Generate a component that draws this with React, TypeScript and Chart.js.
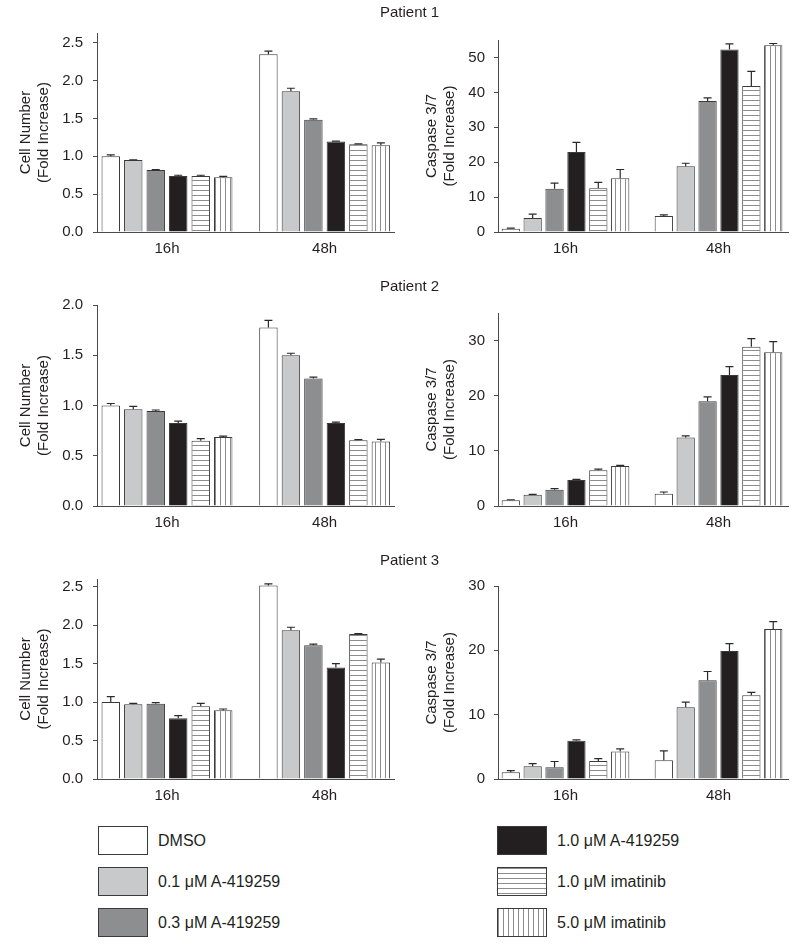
import React, { useEffect, useRef } from 'react';
import { Chart, registerables } from 'chart.js';

Chart.register(...registerables);

// ---------------- data ----------------
const timepoints = ['16h', '48h'];
const conditions = [
  'DMSO',
  '0.1 μM A-419259',
  '0.3 μM A-419259',
  '1.0 μM A-419259',
  '1.0 μM imatinib',
  '5.0 μM imatinib',
];
const patients = ['Patient 1', 'Patient 2', 'Patient 3'];
const cellTitle = ['Cell Number', '(Fold Increase)'];
const caspTitle = ['Caspase 3/7', '(Fold Increase)'];

// Patient 1
const p1Cell16 = [1.0, 0.95, 0.82, 0.74, 0.74, 0.725];
const p1Cell16Err = [0.02, 0.005, 0.005, 0.01, 0.01, 0.01];
const p1Cell48 = [2.35, 1.86, 1.485, 1.195, 1.16, 1.147];
const p1Cell48Err = [0.04, 0.04, 0.01, 0.005, 0.005, 0.03];
const p1Casp16 = [0.9, 4.0, 12.4, 22.9, 12.5, 15.4];
const p1Casp16Err = [0.2, 1.1, 1.6, 2.8, 1.7, 2.5];
const p1Casp48 = [4.6, 18.8, 37.5, 52.3, 41.8, 53.5];
const p1Casp48Err = [0.3, 0.9, 0.9, 1.6, 4.2, 0.5];

// Patient 2
const p2Cell16 = [1.0, 0.962, 0.945, 0.825, 0.65, 0.686];
const p2Cell16Err = [0.02, 0.03, 0.01, 0.02, 0.02, 0.01];
const p2Cell48 = [1.777, 1.5, 1.268, 0.825, 0.655, 0.642];
const p2Cell48Err = [0.07, 0.02, 0.015, 0.01, 0.005, 0.02];
const p2Casp16 = [1.03, 2.06, 2.96, 4.72, 6.47, 7.26];
const p2Casp16Err = [0.1, 0.05, 0.2, 0.1, 0.2, 0.1];
const p2Casp48 = [2.24, 12.4, 19.0, 23.77, 28.86, 27.9];
const p2Casp48Err = [0.3, 0.3, 0.8, 1.5, 1.5, 1.9];

// Patient 3
const p3Cell16 = [1.0, 0.973, 0.977, 0.79, 0.947, 0.895];
const p3Cell16Err = [0.07, 0.01, 0.015, 0.035, 0.035, 0.015];
const p3Cell48 = [2.517, 1.933, 1.739, 1.449, 1.886, 1.514];
const p3Cell48Err = [0.02, 0.04, 0.015, 0.05, 0.005, 0.045];
const p3Casp16 = [1.04, 1.98, 1.82, 5.94, 2.81, 4.27];
const p3Casp16Err = [0.25, 0.4, 0.9, 0.15, 0.35, 0.42];
const p3Casp48 = [2.92, 11.15, 15.36, 19.9, 13.0, 23.3];
const p3Casp48Err = [1.45, 0.8, 1.35, 1.15, 0.45, 1.15];

// ---------------- styles ----------------
const FONT = "'Liberation Sans', Arial, Helvetica, sans-serif";
const TEXT = '#231f20';
const AXIS = '#4a4a4a';
const BAR_BORDER = '#3a3a3a';
const STRIPE = '#8c8c8c';
const fillKinds = ['#ffffff', '#c8c9cb', '#8d8e90', '#231f20', 'hstripe', 'vstripe'];

function makeFill(ctx: CanvasRenderingContext2D, kind: string): any {
  if (kind !== 'hstripe' && kind !== 'vstripe') return kind;
  const c = document.createElement('canvas');
  const n = 5;
  c.width = kind === 'hstripe' ? 1 : n;
  c.height = kind === 'hstripe' ? n : 1;
  const g = c.getContext('2d')!;
  g.fillStyle = '#ffffff';
  g.fillRect(0, 0, c.width, c.height);
  g.fillStyle = STRIPE;
  g.fillRect(0, 0, 1, 1);
  return ctx.createPattern(c, 'repeat');
}

function cssFill(kind: string): string {
  if (kind === 'hstripe')
    return `repeating-linear-gradient(to bottom, ${STRIPE} 0px, ${STRIPE} 1px, #fff 1px, #fff 5px)`;
  if (kind === 'vstripe')
    return `repeating-linear-gradient(to right, ${STRIPE} 0px, ${STRIPE} 1px, #fff 1px, #fff 5px)`;
  return kind;
}

const errorBarPlugin = {
  id: 'errorBars',
  afterDatasetsDraw(chart: any) {
    const ctx = chart.ctx;
    const yScale = chart.scales.y;
    chart.data.datasets.forEach((ds: any, i: number) => {
      const meta = chart.getDatasetMeta(i);
      meta.data.forEach((bar: any, j: number) => {
        const v = ds.data[j].y;
        const e = ds.errors[j];
        const x = bar.x;
        const y0 = yScale.getPixelForValue(v);
        const y1 = yScale.getPixelForValue(v + e);
        ctx.save();
        ctx.strokeStyle = '#2a2a2a';
        ctx.lineWidth = 1.2;
        ctx.beginPath();
        ctx.moveTo(x, y0);
        ctx.lineTo(x, y1);
        ctx.moveTo(x - 4, y1);
        ctx.lineTo(x + 4, y1);
        ctx.stroke();
        ctx.restore();
      });
    });
  },
};

type Spec = {
  left: number;
  top: number;
  width: number;
  height: number;
  padTop: number;
  padRight: number;
  yAxisWidth: number;
  xAxisHeight: number;
  xMin: number;
  xMax: number;
  yMax: number;
  yStep: number;
  decimals: number;
  yTitle: string[];
  titlePad: number;
  tickPad: number;
  catPct: number;
  barPct: number;
  mean16: number[];
  err16: number[];
  mean48: number[];
  err48: number[];
};

function BarPanel({ spec }: { spec: Spec }) {
  const ref = useRef<HTMLCanvasElement>(null);
  useEffect(() => {
    const canvas = ref.current!;
    const ctx = canvas.getContext('2d')!;
    const fills = fillKinds.map((k) => makeFill(ctx, k));
    const datasets = conditions.map((c, i) => ({
      label: c,
      data: [
        { x: 0, y: spec.mean16[i] },
        { x: 1, y: spec.mean48[i] },
      ],
      errors: [spec.err16[i], spec.err48[i]],
      backgroundColor: fills[i],
      borderColor: BAR_BORDER,
      borderWidth: 1,
      categoryPercentage: spec.catPct,
      barPercentage: spec.barPct,
    }));
    const chart = new Chart(ctx, {
      type: 'bar',
      data: { datasets } as any,
      options: {
        animation: false,
        responsive: false,
        events: [],
        layout: { padding: { top: spec.padTop, right: spec.padRight, left: 0, bottom: 0 } },
        plugins: { legend: { display: false }, tooltip: { enabled: false } },
        scales: {
          x: {
            type: 'linear',
            min: spec.xMin,
            max: spec.xMax,
            offset: false,
            grid: { display: false, drawTicks: false, offset: false },
            border: { display: true, color: AXIS, width: 1 },
            afterBuildTicks: (s: any) => {
              s.ticks = timepoints.map((_, i) => ({ value: i }));
            },
            afterFit: (s: any) => {
              s.height = spec.xAxisHeight;
            },
            ticks: {
              callback: (v: any) => timepoints[v] ?? '',
              padding: 8,
              color: TEXT,
              maxRotation: 0,
              autoSkip: false,
              font: { family: FONT, size: 15 },
            },
          },
          y: {
            type: 'linear',
            min: 0,
            max: spec.yMax,
            grid: { drawOnChartArea: false, drawTicks: true, tickLength: 4, color: AXIS },
            border: { display: true, color: AXIS, width: 1 },
            afterFit: (s: any) => {
              s.width = spec.yAxisWidth;
            },
            ticks: {
              stepSize: spec.yStep,
              includeBounds: false,
              padding: spec.tickPad,
              callback: (v: any) => Number(v).toFixed(spec.decimals),
              color: TEXT,
              font: { family: FONT, size: 15 },
            },
            title: {
              display: true,
              text: spec.yTitle,
              color: TEXT,
              font: { family: FONT, size: 15, lineHeight: 1.2 },
              padding: { top: spec.titlePad, bottom: 0 },
            },
          },
        },
      } as any,
      plugins: [errorBarPlugin],
    });
    return () => chart.destroy();
  }, []);
  return (
    <canvas
      ref={ref}
      width={spec.width}
      height={spec.height}
      style={{ position: 'absolute', left: spec.left, top: spec.top, width: spec.width, height: spec.height }}
    />
  );
}

const leftCol = { left: 0, padRight: 6, yAxisWidth: 97, xMin: -0.444, xMax: 1.44, catPct: 0.856, barPct: 0.82, titlePad: 17, tickPad: 10 };
const rightCol = { left: 400, padRight: 12, yAxisWidth: 98, xMin: -0.441, xMax: 1.454, catPct: 0.858, barPct: 0.835, titlePad: 23, tickPad: 9 };

const specs: Spec[] = [
  { ...leftCol, top: 0, width: 400, height: 270, padTop: 33, xAxisHeight: 38, yMax: 2.63, yStep: 0.5, decimals: 1, yTitle: cellTitle, mean16: p1Cell16, err16: p1Cell16Err, mean48: p1Cell48, err48: p1Cell48Err },
  { ...rightCol, top: 0, width: 400, height: 270, padTop: 40, xAxisHeight: 38, yMax: 55, yStep: 10, decimals: 0, yTitle: caspTitle, mean16: p1Casp16, err16: p1Casp16Err, mean48: p1Casp48, err48: p1Casp48Err },
  { ...leftCol, top: 270, width: 400, height: 274, padTop: 35, xAxisHeight: 38, yMax: 2.0, yStep: 0.5, decimals: 1, yTitle: cellTitle, mean16: p2Cell16, err16: p2Cell16Err, mean48: p2Cell48, err48: p2Cell48Err },
  { ...rightCol, top: 270, width: 400, height: 274, padTop: 43, xAxisHeight: 38, yMax: 35, yStep: 10, decimals: 0, yTitle: caspTitle, mean16: p2Casp16, err16: p2Casp16Err, mean48: p2Casp48, err48: p2Casp48Err },
  { ...leftCol, top: 545, width: 400, height: 272, padTop: 34, xAxisHeight: 38, yMax: 2.6, yStep: 0.5, decimals: 1, yTitle: cellTitle, mean16: p3Cell16, err16: p3Cell16Err, mean48: p3Cell48, err48: p3Cell48Err },
  { ...rightCol, top: 545, width: 400, height: 272, padTop: 41, xAxisHeight: 38, yMax: 30, yStep: 10, decimals: 0, yTitle: caspTitle, mean16: p3Casp16, err16: p3Casp16Err, mean48: p3Casp48, err48: p3Casp48Err },
];

const titleTops = [3, 277, 551];
const legendBoxLefts = [98, 497];
const legendRowTops = [826, 867, 908];

export default function App() {
  return (
    <div
      style={{
        position: 'absolute',
        left: 0,
        top: 0,
        width: 800,
        height: 946,
        background: '#ffffff',
        fontFamily: FONT,
        color: TEXT,
        overflow: 'hidden',
      }}
    >
      {specs.map((s, i) => (
        <BarPanel key={i} spec={s} />
      ))}
      {patients.map((p, i) => (
        <div
          key={p}
          style={{ position: 'absolute', left: 380, top: titleTops[i], fontSize: 15, lineHeight: '18px', whiteSpace: 'nowrap' }}
        >
          {p}
        </div>
      ))}
      {conditions.map((c, i) => {
        const col = i < 3 ? 0 : 1;
        const row = i % 3;
        const bl = legendBoxLefts[col];
        const bt = legendRowTops[row];
        return (
          <React.Fragment key={c}>
            <div
              style={{
                position: 'absolute',
                left: bl,
                top: bt,
                width: 50,
                height: 29,
                boxSizing: 'border-box',
                border: `1px solid ${BAR_BORDER}`,
                background: cssFill(fillKinds[i]),
              }}
            />
            <div
              style={{
                position: 'absolute',
                left: bl + 60,
                top: bt + 5,
                fontSize: 16,
                lineHeight: '20px',
                whiteSpace: 'nowrap',
              }}
            >
              {c}
            </div>
          </React.Fragment>
        );
      })}
    </div>
  );
}
